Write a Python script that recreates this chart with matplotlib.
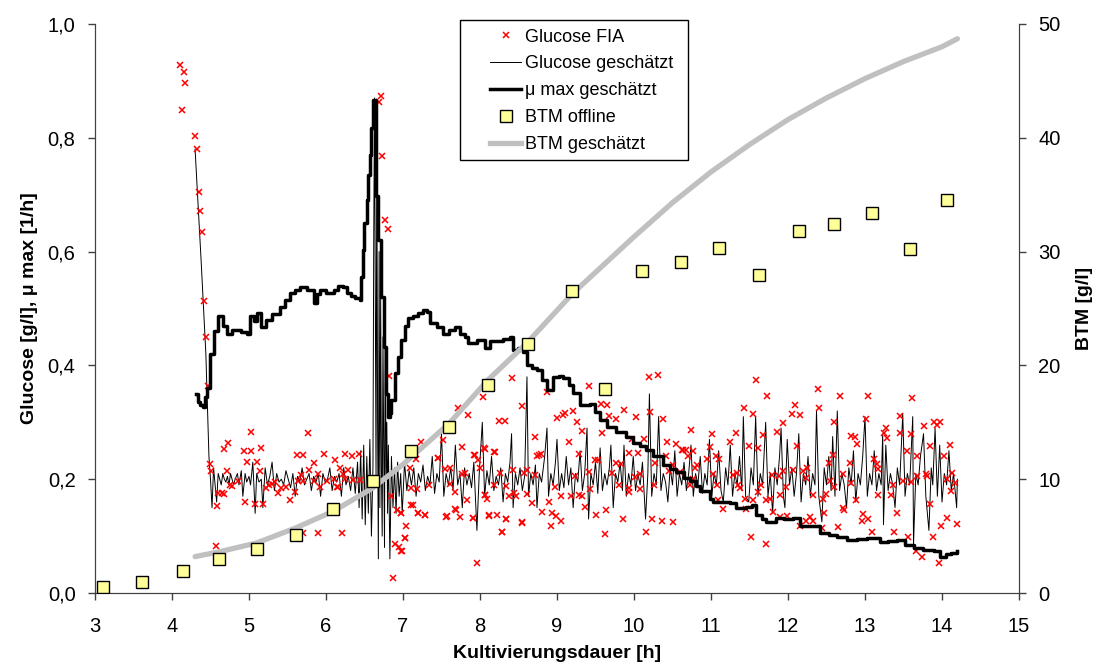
import matplotlib
matplotlib.use("Agg")
import matplotlib.pyplot as plt
from matplotlib.patches import Rectangle
from matplotlib.lines import Line2D
from matplotlib.ticker import FuncFormatter, MultipleLocator

plt.rcParams['font.family'] = ['Liberation Sans', 'DejaVu Sans']

# Glucose FIA (offline/online measurements) [h, g/l]
fia = [
    (4.10, 0.928), (4.16, 0.915), (4.17, 0.897), (4.13, 0.849), (4.30, 0.803), (4.32, 0.780),
    (4.35, 0.704), (4.37, 0.671), (4.39, 0.634), (4.42, 0.514), (4.44, 0.450), (4.47, 0.364),
    (4.49, 0.227), (4.51, 0.215), (5.02, 0.283), (5.76, 0.281), (4.67, 0.253), (4.73, 0.263),
    (4.93, 0.250), (5.03, 0.250), (5.16, 0.254), (4.97, 0.230), (5.11, 0.231), (4.71, 0.215),
    (5.62, 0.243), (5.70, 0.243), (5.97, 0.244), (5.85, 0.229), (6.12, 0.233), (6.25, 0.244),
    (6.34, 0.241), (6.43, 0.244), (5.78, 0.217), (5.89, 0.210), (6.18, 0.219), (6.29, 0.217),
    (5.14, 0.215), (5.68, 0.207), (4.60, 0.176), (4.65, 0.175), (4.67, 0.174), (4.58, 0.153),
    (4.95, 0.160), (5.08, 0.156), (5.18, 0.156), (4.75, 0.190), (4.78, 0.188), (4.86, 0.196),
    (5.22, 0.185), (5.26, 0.190), (5.30, 0.192), (5.38, 0.175), (5.34, 0.195), (5.42, 0.184),
    (5.48, 0.186), (5.53, 0.163), (5.60, 0.178), (5.64, 0.197), (5.70, 0.197), (5.84, 0.197),
    (5.92, 0.187), (6.01, 0.196), (6.14, 0.186), (6.10, 0.200), (6.22, 0.209), (6.25, 0.200),
    (6.35, 0.199), (6.44, 0.199), (4.57, 0.083), (5.90, 0.105), (6.21, 0.105), (5.70, 0.105),
    (6.15, 0.187), (6.71, 0.873), (6.69, 0.862), (6.73, 0.768), (6.77, 0.655), (6.81, 0.640),
    (6.82, 0.381), (6.84, 0.170), (6.90, 0.087), (6.95, 0.081), (6.98, 0.073), (7.03, 0.096),
    (7.04, 0.118), (6.97, 0.140), (6.92, 0.146), (6.87, 0.026), (7.13, 0.155), (7.19, 0.140),
    (7.29, 0.137), (7.09, 0.219), (7.17, 0.235), (7.24, 0.266), (7.46, 0.237), (7.52, 0.269),
    (7.56, 0.134), (7.69, 0.146), (7.71, 0.326), (7.76, 0.257), (7.85, 0.313), (7.92, 0.243),
    (7.91, 0.131), (7.96, 0.052), (8.04, 0.344), (8.05, 0.254), (8.07, 0.172), (8.12, 0.137),
    (8.19, 0.248), (8.25, 0.303), (8.32, 0.303), (8.28, 0.108), (8.34, 0.130), (8.41, 0.377),
    (8.55, 0.329), (8.54, 0.124), (8.87, 0.353), (9.42, 0.364), (9.57, 0.332), (9.65, 0.330),
    (10.20, 0.379), (10.31, 0.384), (9.00, 0.308), (9.08, 0.312), (9.10, 0.317), (9.21, 0.320),
    (9.26, 0.300), (9.33, 0.284), (9.16, 0.266), (8.71, 0.275), (9.68, 0.311), (9.77, 0.305),
    (9.87, 0.322), (10.02, 0.309), (10.21, 0.318), (10.38, 0.305), (10.74, 0.286), (9.58, 0.281),
    (9.94, 0.246), (9.98, 0.271), (10.13, 0.271), (10.05, 0.246), (10.43, 0.265), (10.55, 0.262),
    (10.64, 0.251), (10.77, 0.249), (9.28, 0.244), (9.49, 0.234), (9.53, 0.234), (9.77, 0.229),
    (9.83, 0.227), (10.27, 0.229), (10.41, 0.240), (10.51, 0.225), (8.74, 0.241), (8.76, 0.243),
    (8.79, 0.244), (8.18, 0.248), (8.06, 0.253), (7.93, 0.243), (7.98, 0.234), (7.45, 0.237),
    (7.55, 0.218), (7.61, 0.219), (7.77, 0.210), (7.80, 0.211), (8.00, 0.219), (8.43, 0.216),
    (8.57, 0.211), (8.61, 0.216), (8.71, 0.207), (8.26, 0.211), (9.23, 0.206), (9.41, 0.212),
    (9.72, 0.211), (10.01, 0.204), (10.08, 0.210), (10.45, 0.214), (10.60, 0.213), (10.79, 0.220),
    (7.11, 0.184), (7.18, 0.183), (7.34, 0.190), (7.61, 0.192), (7.68, 0.177), (8.07, 0.172),
    (8.09, 0.166), (8.18, 0.190), (8.34, 0.188), (8.38, 0.170), (8.44, 0.175), (8.47, 0.170),
    (8.61, 0.174), (8.68, 0.158), (8.90, 0.160), (8.97, 0.187), (9.05, 0.170), (9.18, 0.170),
    (9.28, 0.172), (9.33, 0.170), (9.37, 0.151), (9.43, 0.183), (9.64, 0.146), (9.80, 0.190),
    (9.93, 0.185), (9.94, 0.178), (10.08, 0.182), (10.26, 0.190), (7.83, 0.163), (6.98, 0.140),
    (7.11, 0.155), (7.19, 0.140), (7.28, 0.137), (7.57, 0.135), (7.68, 0.147), (7.74, 0.133),
    (7.91, 0.131), (8.12, 0.136), (8.22, 0.137), (8.29, 0.108), (8.34, 0.130), (8.54, 0.123),
    (8.80, 0.142), (8.92, 0.117), (8.94, 0.140), (8.99, 0.135), (9.05, 0.126), (9.51, 0.137),
    (9.62, 0.104), (9.86, 0.130), (10.16, 0.107), (10.24, 0.130), (10.37, 0.126), (10.51, 0.124),
    (7.02, 0.096), (6.99, 0.073), (11.59, 0.374), (11.73, 0.347), (12.39, 0.359), (12.68, 0.347),
    (13.04, 0.347), (13.61, 0.343), (11.43, 0.325), (11.54, 0.315), (12.09, 0.330), (12.05, 0.315),
    (12.15, 0.313), (12.40, 0.326), (12.60, 0.300), (13.01, 0.305), (13.46, 0.311), (13.76, 0.293),
    (13.90, 0.301), (13.93, 0.296), (13.97, 0.300), (11.01, 0.279), (11.32, 0.282), (11.68, 0.278),
    (11.86, 0.283), (11.93, 0.298), (12.82, 0.276), (12.87, 0.274), (13.25, 0.282), (13.27, 0.290),
    (13.29, 0.272), (13.46, 0.282), (13.60, 0.280), (11.25, 0.265), (10.99, 0.257), (11.50, 0.259),
    (11.61, 0.254), (12.12, 0.258), (12.89, 0.262), (13.54, 0.250), (13.84, 0.258), (14.10, 0.260),
    (12.58, 0.243), (13.68, 0.240), (14.03, 0.241), (10.62, 0.252), (10.68, 0.252), (10.70, 0.240),
    (10.95, 0.235), (11.07, 0.240), (11.10, 0.236), (12.53, 0.228), (13.12, 0.235), (12.81, 0.228),
    (13.15, 0.226), (13.17, 0.218), (10.82, 0.225), (12.07, 0.217), (12.19, 0.215), (12.25, 0.219),
    (11.03, 0.209), (11.28, 0.207), (11.34, 0.211), (11.79, 0.208), (11.88, 0.205), (11.94, 0.214),
    (12.23, 0.202), (12.72, 0.210), (13.79, 0.209), (13.68, 0.205), (13.80, 0.206), (14.13, 0.211),
    (14.17, 0.194), (14.07, 0.200), (10.73, 0.190), (10.76, 0.200), (11.08, 0.189), (11.35, 0.190),
    (11.38, 0.184), (11.65, 0.190), (11.98, 0.187), (12.55, 0.197), (12.60, 0.187), (12.82, 0.194),
    (13.34, 0.173), (13.37, 0.190), (13.49, 0.196), (13.60, 0.195), (14.12, 0.180), (11.09, 0.164),
    (11.16, 0.148), (11.44, 0.166), (11.46, 0.148), (11.54, 0.164), (11.61, 0.177), (11.71, 0.164),
    (11.76, 0.166), (11.90, 0.173), (11.80, 0.142), (11.89, 0.134), (11.99, 0.135), (12.15, 0.118),
    (12.23, 0.127), (12.29, 0.134), (12.32, 0.126), (12.33, 0.172), (12.46, 0.165), (12.47, 0.141),
    (12.50, 0.174), (12.44, 0.114), (12.65, 0.116), (12.71, 0.150), (12.73, 0.146), (12.88, 0.163),
    (12.98, 0.139), (12.96, 0.127), (13.04, 0.130), (13.09, 0.108), (13.17, 0.172), (13.38, 0.108),
    (13.42, 0.140), (13.56, 0.099), (13.66, 0.073), (13.74, 0.064), (13.84, 0.157), (13.88, 0.098),
    (13.99, 0.117), (14.06, 0.131), (13.96, 0.052), (14.19, 0.122), (11.52, 0.099), (11.71, 0.087),
]

# Glucose geschaetzt [h, g/l]
glc_est = [
    (4.30, 0.78), (4.34, 0.68), (4.38, 0.58), (4.41, 0.50), (4.44, 0.42), (4.46, 0.33), (4.48, 0.24),
    (4.50, 0.20), (4.52, 0.15), (4.54, 0.22), (4.56, 0.19), (4.58, 0.16), (4.60, 0.21), (4.62, 0.20),
    (4.64, 0.19), (4.66, 0.21), (4.68, 0.20), (4.70, 0.195), (4.72, 0.205), (4.74, 0.19), (4.76, 0.21),
    (4.78, 0.20), (4.80, 0.19), (4.82, 0.20), (4.85, 0.21), (4.87, 0.19), (4.90, 0.215), (4.92, 0.17),
    (4.95, 0.21), (4.97, 0.195), (5.00, 0.205), (5.02, 0.19), (5.05, 0.23), (5.08, 0.14), (5.10, 0.21),
    (5.13, 0.195), (5.16, 0.20), (5.18, 0.15), (5.21, 0.22), (5.24, 0.19), (5.27, 0.205), (5.30, 0.23),
    (5.33, 0.18), (5.36, 0.21), (5.39, 0.195), (5.42, 0.20), (5.45, 0.19), (5.48, 0.215), (5.51, 0.20),
    (5.54, 0.185), (5.57, 0.21), (5.60, 0.17), (5.63, 0.205), (5.66, 0.195), (5.69, 0.22), (5.72, 0.19),
    (5.75, 0.20), (5.78, 0.21), (5.81, 0.18), (5.84, 0.205), (5.87, 0.195), (5.90, 0.21), (5.93, 0.17),
    (5.96, 0.21), (5.99, 0.195), (6.02, 0.20), (6.05, 0.22), (6.08, 0.18), (6.11, 0.205), (6.14, 0.195),
    (6.17, 0.21), (6.20, 0.17), (6.23, 0.22), (6.26, 0.19), (6.29, 0.205), (6.32, 0.18), (6.35, 0.22),
    (6.38, 0.175), (6.41, 0.23), (6.43, 0.15), (6.45, 0.25), (6.47, 0.13), (6.49, 0.26), (6.51, 0.12),
    (6.53, 0.24), (6.55, 0.14), (6.57, 0.27), (6.59, 0.10), (6.61, 0.22), (6.62, 0.62), (6.63, 0.87),
    (6.64, 0.55), (6.65, 0.20), (6.66, 0.80), (6.67, 0.30), (6.68, 0.06), (6.69, 0.60), (6.70, 0.15),
    (6.71, 0.52), (6.72, 0.22), (6.73, 0.10), (6.74, 0.45), (6.75, 0.25), (6.76, 0.08), (6.77, 0.52),
    (6.78, 0.20), (6.79, 0.30), (6.80, 0.14), (6.81, 0.26), (6.83, 0.06), (6.85, 0.24), (6.87, 0.15),
    (6.89, 0.22), (6.91, 0.14), (6.93, 0.23), (6.95, 0.17), (6.97, 0.21), (6.99, 0.14), (7.02, 0.23),
    (7.05, 0.18), (7.08, 0.215), (7.11, 0.19), (7.14, 0.22), (7.17, 0.17), (7.20, 0.21), (7.23, 0.195),
    (7.26, 0.225), (7.29, 0.18), (7.32, 0.205), (7.35, 0.19), (7.38, 0.24), (7.41, 0.175), (7.44, 0.21),
    (7.47, 0.195), (7.50, 0.28), (7.53, 0.17), (7.56, 0.21), (7.59, 0.19), (7.62, 0.22), (7.65, 0.18),
    (7.68, 0.26), (7.71, 0.19), (7.74, 0.21), (7.77, 0.15), (7.80, 0.22), (7.83, 0.19), (7.86, 0.21),
    (7.89, 0.185), (7.92, 0.23), (7.96, 0.11), (7.99, 0.21), (8.03, 0.30), (8.06, 0.17), (8.09, 0.215),
    (8.12, 0.19), (8.15, 0.24), (8.18, 0.18), (8.21, 0.205), (8.24, 0.19), (8.27, 0.22), (8.30, 0.16),
    (8.33, 0.21), (8.36, 0.195), (8.39, 0.23), (8.41, 0.28), (8.43, 0.15), (8.46, 0.21), (8.49, 0.19),
    (8.52, 0.22), (8.55, 0.18), (8.58, 0.205), (8.61, 0.38), (8.63, 0.17), (8.66, 0.21), (8.69, 0.19),
    (8.72, 0.225), (8.74, 0.15), (8.77, 0.21), (8.80, 0.195), (8.84, 0.24), (8.87, 0.29), (8.89, 0.17),
    (8.92, 0.21), (8.95, 0.19), (8.98, 0.23), (9.00, 0.27), (9.03, 0.18), (9.06, 0.21), (9.09, 0.185),
    (9.12, 0.24), (9.15, 0.19), (9.18, 0.22), (9.21, 0.15), (9.24, 0.21), (9.27, 0.195), (9.30, 0.25),
    (9.33, 0.18), (9.36, 0.21), (9.39, 0.29), (9.41, 0.13), (9.44, 0.21), (9.47, 0.19), (9.50, 0.23),
    (9.53, 0.175), (9.56, 0.255), (9.59, 0.18), (9.62, 0.21), (9.65, 0.19), (9.68, 0.22), (9.70, 0.26),
    (9.73, 0.15), (9.76, 0.21), (9.79, 0.195), (9.82, 0.23), (9.85, 0.18), (9.87, 0.26), (9.90, 0.17),
    (9.93, 0.21), (9.96, 0.19), (9.99, 0.24), (10.02, 0.18), (10.05, 0.21), (10.08, 0.19), (10.11, 0.23),
    (10.15, 0.13), (10.18, 0.21), (10.20, 0.35), (10.23, 0.17), (10.26, 0.21), (10.29, 0.19), (10.32, 0.31),
    (10.35, 0.18), (10.38, 0.21), (10.41, 0.195), (10.44, 0.16), (10.47, 0.22), (10.50, 0.19), (10.53, 0.25),
    (10.56, 0.17), (10.59, 0.21), (10.62, 0.19), (10.65, 0.23), (10.68, 0.18), (10.71, 0.21), (10.74, 0.26),
    (10.77, 0.17), (10.80, 0.21), (10.83, 0.19), (10.86, 0.24), (10.89, 0.175), (10.92, 0.21), (10.95, 0.19),
    (10.98, 0.27), (11.01, 0.17), (11.04, 0.21), (11.07, 0.19), (11.10, 0.25), (11.13, 0.18), (11.16, 0.16),
    (11.19, 0.22), (11.22, 0.19), (11.25, 0.26), (11.28, 0.17), (11.31, 0.21), (11.34, 0.19), (11.37, 0.24),
    (11.40, 0.18), (11.42, 0.31), (11.45, 0.17), (11.49, 0.16), (11.52, 0.22), (11.55, 0.19), (11.58, 0.31),
    (11.61, 0.17), (11.64, 0.21), (11.67, 0.19), (11.71, 0.30), (11.74, 0.17), (11.77, 0.21), (11.80, 0.14),
    (11.83, 0.22), (11.86, 0.19), (11.89, 0.24), (11.91, 0.29), (11.94, 0.17), (11.96, 0.15), (11.99, 0.27),
    (12.02, 0.19), (12.05, 0.22), (12.08, 0.17), (12.11, 0.21), (12.14, 0.28), (12.17, 0.16), (12.20, 0.21),
    (12.23, 0.19), (12.26, 0.24), (12.29, 0.17), (12.32, 0.21), (12.35, 0.19), (12.37, 0.32), (12.40, 0.17),
    (12.44, 0.125), (12.47, 0.22), (12.50, 0.19), (12.53, 0.24), (12.56, 0.18), (12.58, 0.275), (12.61, 0.17),
    (12.64, 0.32), (12.67, 0.18), (12.70, 0.21), (12.73, 0.19), (12.76, 0.15), (12.79, 0.22), (12.82, 0.19),
    (12.85, 0.25), (12.88, 0.16), (12.91, 0.21), (12.94, 0.19), (12.97, 0.24), (13.00, 0.31), (13.03, 0.17),
    (13.06, 0.21), (13.09, 0.19), (13.12, 0.25), (13.15, 0.18), (13.18, 0.21), (13.21, 0.19), (13.23, 0.28),
    (13.24, 0.12), (13.27, 0.26), (13.30, 0.18), (13.33, 0.21), (13.36, 0.19), (13.39, 0.15), (13.42, 0.22),
    (13.45, 0.19), (13.49, 0.315), (13.52, 0.17), (13.55, 0.21), (13.58, 0.19), (13.62, 0.31), (13.63, 0.085),
    (13.66, 0.21), (13.69, 0.19), (13.72, 0.24), (13.76, 0.28), (13.79, 0.17), (13.83, 0.11), (13.86, 0.22),
    (13.88, 0.19), (13.91, 0.29), (13.94, 0.17), (13.97, 0.26), (14.00, 0.16), (14.03, 0.21), (14.06, 0.19),
    (14.09, 0.25), (14.12, 0.18), (14.15, 0.21), (14.19, 0.15), (14.20, 0.20),
]

# mu max geschaetzt [h, 1/h]
mu_max = [
    (4.31, 0.350), (4.34, 0.335), (4.37, 0.330), (4.40, 0.327), (4.43, 0.345), (4.46, 0.360),
    (4.50, 0.420), (4.55, 0.460), (4.60, 0.486), (4.66, 0.470), (4.71, 0.456), (4.78, 0.462),
    (4.84, 0.462), (4.90, 0.458), (4.97, 0.456), (5.01, 0.486), (5.06, 0.478), (5.10, 0.492),
    (5.16, 0.468), (5.22, 0.480), (5.30, 0.490), (5.40, 0.503), (5.47, 0.515), (5.53, 0.527),
    (5.60, 0.533), (5.66, 0.538), (5.75, 0.532), (5.84, 0.509), (5.88, 0.525), (5.92, 0.532),
    (6.00, 0.528), (6.10, 0.532), (6.16, 0.540), (6.22, 0.538), (6.27, 0.527), (6.33, 0.522),
    (6.38, 0.518), (6.44, 0.515), (6.46, 0.556), (6.48, 0.603), (6.50, 0.650), (6.53, 0.690),
    (6.55, 0.735), (6.57, 0.770), (6.59, 0.817), (6.61, 0.866), (6.63, 0.866), (6.65, 0.697),
    (6.68, 0.620), (6.71, 0.521), (6.75, 0.433), (6.78, 0.350), (6.80, 0.310), (6.83, 0.316),
    (6.85, 0.339), (6.90, 0.386), (6.94, 0.415), (6.98, 0.445), (7.03, 0.470), (7.07, 0.483),
    (7.13, 0.486), (7.20, 0.492), (7.26, 0.497), (7.31, 0.494), (7.35, 0.474), (7.44, 0.468),
    (7.52, 0.456), (7.60, 0.462), (7.68, 0.468), (7.74, 0.456), (7.80, 0.450), (7.85, 0.439),
    (7.96, 0.445), (8.06, 0.430), (8.13, 0.442), (8.22, 0.442), (8.30, 0.446), (8.39, 0.450),
    (8.43, 0.427), (8.50, 0.430), (8.56, 0.424), (8.61, 0.401), (8.68, 0.396), (8.74, 0.392),
    (8.80, 0.375), (8.87, 0.357), (8.95, 0.380), (9.02, 0.382), (9.08, 0.378), (9.15, 0.365),
    (9.21, 0.351), (9.30, 0.330), (9.43, 0.333), (9.50, 0.318), (9.56, 0.304), (9.65, 0.292),
    (9.77, 0.283), (9.90, 0.275), (9.99, 0.263), (10.08, 0.258), (10.16, 0.251), (10.25, 0.240),
    (10.38, 0.225), (10.47, 0.218), (10.55, 0.213), (10.65, 0.203), (10.73, 0.196), (10.80, 0.188),
    (10.86, 0.180), (10.99, 0.166), (11.03, 0.160), (11.15, 0.160), (11.25, 0.158), (11.33, 0.149),
    (11.45, 0.152), (11.53, 0.155), (11.59, 0.137), (11.66, 0.130), (11.72, 0.125), (11.85, 0.131),
    (11.95, 0.130), (12.07, 0.131), (12.16, 0.117), (12.33, 0.117), (12.42, 0.105), (12.53, 0.102),
    (12.63, 0.099), (12.76, 0.093), (12.90, 0.095), (13.02, 0.096), (13.19, 0.090), (13.30, 0.092),
    (13.41, 0.093), (13.52, 0.085), (13.63, 0.079), (13.75, 0.076), (13.89, 0.073), (13.97, 0.064),
    (14.05, 0.068), (14.12, 0.071), (14.19, 0.073),
]

# BTM offline [h, g/l]
btm_t = [3.11, 3.61, 4.14, 4.61, 5.11, 5.61, 6.09, 6.61, 7.11, 7.60, 8.10, 8.62,
         9.19, 9.62, 10.10, 10.61, 11.10, 11.62, 12.14, 12.60, 13.09, 13.58, 14.07]
btm_off = [0.55, 0.99, 1.96, 2.99, 3.87, 5.07, 7.38, 9.87, 12.48, 14.56, 18.25, 21.88,
           26.56, 17.95, 28.3, 29.1, 30.3, 27.9, 31.8, 32.4, 33.4, 30.2, 34.5]

# BTM geschaetzt [h, g/l]
btm_est_t = [4.30, 4.60, 5.10, 5.60, 6.10, 6.60, 7.00, 7.60, 8.10, 8.60, 9.20, 9.60,
             10.0, 10.5, 11.0, 11.5, 12.0, 12.5, 13.0, 13.5, 14.0, 14.2]
btm_est = [3.2, 3.6, 4.4, 5.7, 7.2, 9.2, 11.3, 14.9, 18.7, 21.9, 26.3, 28.8,
           31.3, 34.3, 37.0, 39.4, 41.6, 43.5, 45.2, 46.7, 48.0, 48.7]

fig = plt.figure(figsize=(10.93, 6.64), dpi=100)
ax = fig.add_axes([0.0869, 0.1069, 0.8454, 0.857])
ax2 = ax.twinx()

ft, fg = zip(*fia)
ax.plot(ft, fg, linestyle='none', marker='x', color='#ff0000', ms=4.2, mew=1.1, zorder=3)
gt, gv = zip(*glc_est)
ax.plot(gt, gv, color='black', lw=0.7, zorder=2)
mt, mv = zip(*mu_max)
ax.plot(mt, mv, color='black', lw=2.5, drawstyle='steps-post', zorder=4)

ax2.plot(btm_est_t, btm_est, color='#c0c0c0', lw=3.8, solid_capstyle='round', zorder=2)
ax2.plot(btm_t, btm_off, linestyle='none', marker='s', ms=8, mfc='#ffff99', mec='black',
         mew=1.0, zorder=3)

ax.set_xlim(3, 15)
ax.set_ylim(0, 1.0)
ax2.set_ylim(0, 50)
ax.xaxis.set_major_locator(MultipleLocator(1))
ax.yaxis.set_major_locator(MultipleLocator(0.2))
ax2.yaxis.set_major_locator(MultipleLocator(10))
ax.yaxis.set_major_formatter(FuncFormatter(lambda v, p: f'{v:.1f}'.replace('.', ',')))

for a in (ax, ax2):
    a.spines['top'].set_visible(False)
    for s in a.spines.values():
        s.set_color('#404040')
    a.tick_params(labelsize=14.5, length=5, color='#404040', width=1, pad=9)
ax.tick_params(axis='x', pad=12)

ax.set_xlabel('Kultivierungsdauer [h]', fontsize=14, fontweight='bold', labelpad=7)
ax.set_ylabel('Glucose [g/l], μ max [1/h]', fontsize=14, fontweight='bold', labelpad=7)
ax2.set_ylabel('BTM [g/l]', fontsize=14, fontweight='bold', labelpad=11)

handles = [
    Line2D([], [], linestyle='none', marker='x', color='#ff0000', ms=4.2, mew=1.1),
    Line2D([], [], color='black', lw=0.7),
    Line2D([], [], color='black', lw=2.5),
    Line2D([], [], linestyle='none', marker='s', ms=8, mfc='#ffff99', mec='black', mew=1.0),
    Line2D([], [], color='#c0c0c0', lw=3.8),
]
labels = ['Glucose FIA', 'Glucose geschätzt', 'μ max geschätzt', 'BTM offline', 'BTM geschätzt']
ax2.add_patch(Rectangle((0.395, 0.761), 0.247, 0.246, transform=ax2.transAxes, fill=True,
                        facecolor='white', edgecolor='black', lw=1.0, clip_on=False, zorder=5))
leg = ax2.legend(handles, labels, loc='upper left', bbox_to_anchor=(0.428, 0.992),
                 frameon=False, fontsize=13, borderpad=0, handlelength=1.7,
                 handletextpad=0.2, labelspacing=0.55, borderaxespad=0)
leg.set_zorder(6)

fig.savefig('out.png', dpi=100)
